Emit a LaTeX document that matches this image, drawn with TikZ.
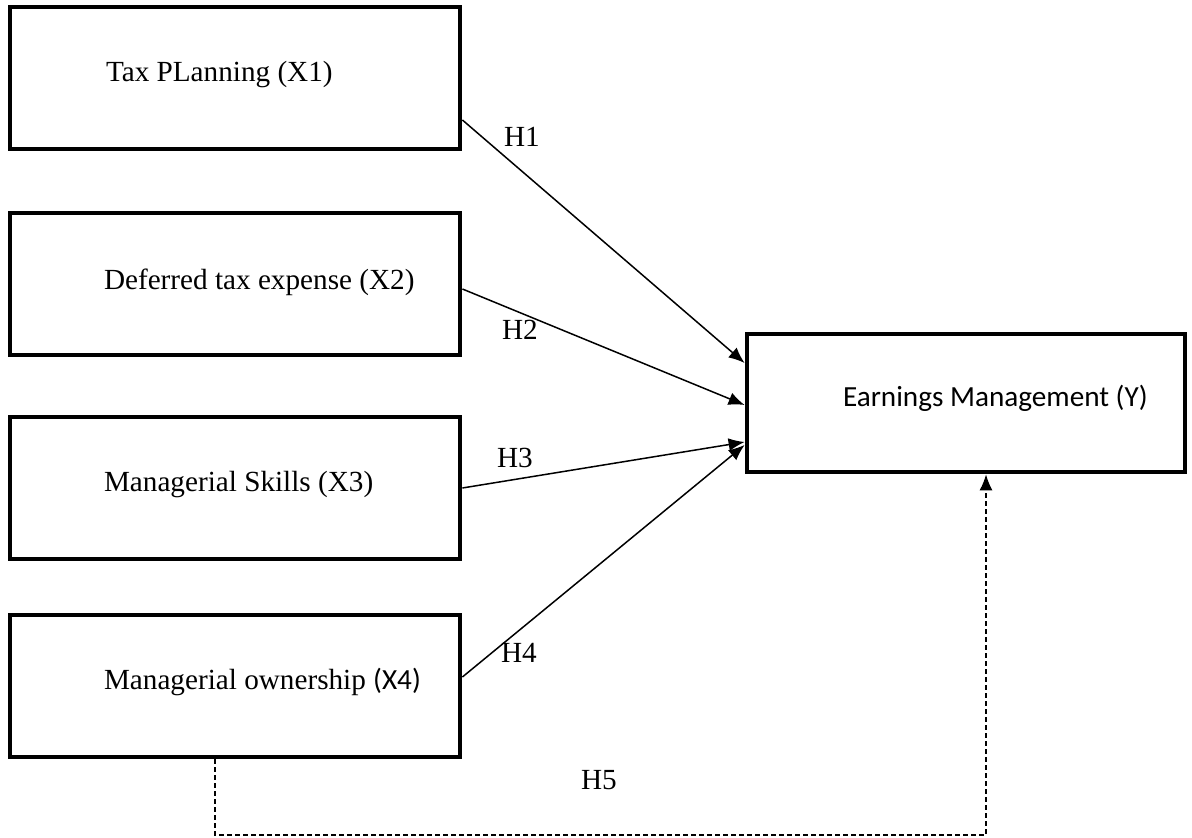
\documentclass[tikz,border=0pt]{standalone}
\usepackage{fontspec}
\setmainfont{Liberation Serif}
\newfontfamily\calfont{Carlito}
\usetikzlibrary{arrows.meta}

\tikzset{
  varbox/.style={draw,line width=2.4pt,minimum width=225pt,minimum height=71pt,inner sep=0pt},
  vartext/.style={anchor=west,inner sep=0pt},
  hyp/.style={inner sep=0pt},
  path/.style={line width=0.75pt,-{Latex[length=8pt,width=6.5pt]}}
}

\begin{document}
\begin{tikzpicture}[x=0.5pt,y=-0.5pt,every node/.style={font=\fontsize{14.6}{17}\selectfont}]
\useasboundingbox (0,0) rectangle (1192,838);
% variables
\node[varbox] (x1) at (235,78) {};
\node[varbox] (x2) at (235,284) {};
\node[varbox] (x3) at (235,488) {};
\node[varbox] (x4) at (235,686) {};
\node[varbox,minimum width=219pt,minimum height=69pt] (y) at (966,403) {};
\node[vartext] (t1) at ([xshift=49pt,yshift=1.5pt]x1.west) {Tax PLanning (X1)};
\node[vartext] (t2) at ([xshift=48pt,yshift=1pt]x2.west) {Deferred tax expense (X2)};
\node[vartext] (t3) at ([xshift=48pt,yshift=1.5pt]x3.west) {Managerial Skills (X3)};
\node[vartext] (t4) at ([xshift=48pt,yshift=2pt]x4.west) {Managerial ownership {\calfont(X4)}};
\node[vartext] (ty) at ([xshift=49pt,yshift=2.5pt]y.west) {\calfont Earnings Management (Y)};
% hypotheses
\draw[path] ([yshift=-21pt]x1.east) -- ([yshift=20pt]y.west);
\draw[path] ([yshift=-2.5pt]x2.east) -- ([yshift=-1pt]y.west);
\draw[path] (x3.east) -- ([yshift=-19.5pt]y.west);
\draw[path] ([yshift=4.5pt]x4.east) -- ([yshift=-21pt]y.west);
\coordinate (c1) at (215,835);
\coordinate (c2) at (986,835);
\draw[line width=0.65pt,dash pattern=on 2.5pt off 1.5pt,-{Latex[length=8pt,width=6.5pt]}]
  (x4.south -| c1) -- (c1) -- (c2) -- (y.south -| c2);
\node[hyp] (h1) at (522,137) {H1};
\node[hyp] (h2) at (520,330) {H2};
\node[hyp] (h3) at (515,458) {H3};
\node[hyp] (h4) at (519,653) {H4};
\node[hyp] (h5) at (599,780) {H5};
\end{tikzpicture}
\end{document}
